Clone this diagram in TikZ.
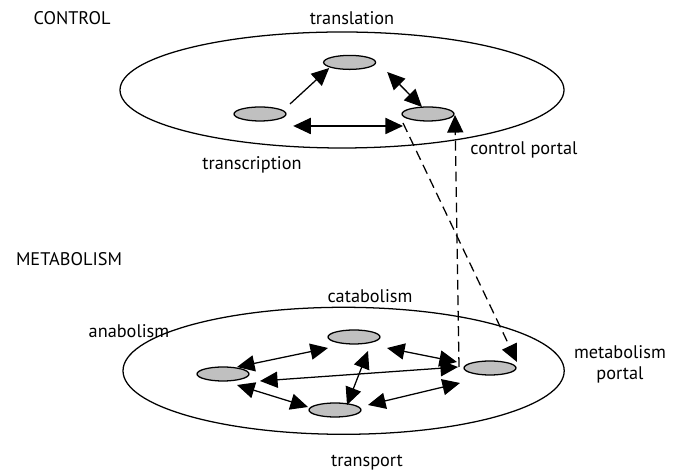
\documentclass[tikz,border=0pt]{standalone}
\usepackage{fontspec}
\setmainfont{PT Sans}
\usetikzlibrary{shapes.geometric}
\usetikzlibrary{arrows.meta}
\definecolor{blobgray}{RGB}{192,192,192}
\tikzset{
  zone/.style={ellipse, draw, line width=0.9pt, inner sep=0pt},
  blob/.style={ellipse, draw, fill=blobgray, line width=0.9pt,
    minimum width=1.3cm, minimum height=0.35cm, inner sep=0pt},
  link/.style={line width=0.9pt, -{Triangle[length=12.5pt,width=11.5pt]}},
  twoway/.style={line width=0.9pt,
    {Triangle[length=12.5pt,width=11.5pt]}-{Triangle[length=12.5pt,width=11.5pt]}},
  feed/.style={link, dash pattern=on 7pt off 4pt},
  lbl/.style={font=\fontsize{13}{15}\selectfont}
}

\begin{document}
\begin{tikzpicture}[lbl]
  \useasboundingbox (0,0) rectangle (16.925,11.9);

  % compartments
  \node[zone, minimum width=11.1cm, minimum height=2.9cm]   (control) at (8.55,9.65) {};
  \node[zone, minimum width=11.03cm, minimum height=3.175cm] (metab)  at (8.59,2.63) {};

  % control processes
  \node[blob] (tl) at (8.74,10.34) {};
  \node[blob] (tc) at (6.5,9.05)   {};
  \node[blob] (cp) at (10.7,9.05)  {};

  % metabolic processes
  \node[blob] (cat) at (8.85,3.475) {};
  \node[blob] (ana) at (5.575,2.55) {};
  \node[blob] (trn) at (8.375,1.65) {};
  \node[blob] (mp)  at (12.25,2.7)  {};

  \draw[link]   ([shift={(0.75,0.25)}]tc.center)   -- ([shift={(-0.51,-0.14)}]tl.center);
  \draw[twoway] ([shift={(0.94,-0.24)}]tl.center)  -- ([shift={(-0.15,0.175)}]cp.center);
  \draw[twoway] ([shift={(0.83,-0.3)}]tc.center)   -- ([shift={(-0.625,-0.3)}]cp.center);

  \draw[twoway] ([shift={(0.35,0.175)}]ana.center) -- ([shift={(-0.65,-0.275)}]cat.center);
  \draw[twoway] ([shift={(0.825,-0.275)}]cat.center) -- ([shift={(-0.825,0.15)}]mp.center);
  \draw[twoway] ([shift={(0.3,0.125)}]trn.center)  -- ([shift={(0.35,-0.35)}]cat.center);
  \draw[twoway] ([shift={(0.35,-0.275)}]ana.center) -- ([shift={(-0.675,0.075)}]trn.center);
  \draw[twoway] ([shift={(0.925,-0.175)}]ana.center) -- ([shift={(-0.8,0.025)}]mp.center);
  \draw[twoway] ([shift={(0.825,0.125)}]trn.center) -- ([shift={(-0.75,-0.375)}]mp.center);

  % portals between the two levels
  \draw[feed] ([shift={(-0.625,-0.225)}]cp.center) -- ([shift={(0.675,0.15)}]mp.center);
  \draw[feed] ([shift={(-0.775,0.025)}]mp.center)  -- ([shift={(0.675,-0.025)}]cp.center);

  % labels
  \node (lcontrol) at (1.8,11.45)   {CONTROL};
  \node (ltl)      at (8.8,11.45)   {translation};
  \node (ltc)      at (6.3,7.775)   {transcription};
  \node (lcp)      at (13.1,8.15)   {control portal};
  \node (lmetab)   at (1.725,5.425) {METABOLISM};
  \node (lcat)     at (9.25,4.5)    {catabolism};
  \node (lana)     at (3.225,3.625) {anabolism};
  \node[align=center] (lmp) at (15.5,2.8) {metabolism\\portal};
  \node (ltrn)     at (9.175,0.325) {transport};
\end{tikzpicture}
\end{document}
